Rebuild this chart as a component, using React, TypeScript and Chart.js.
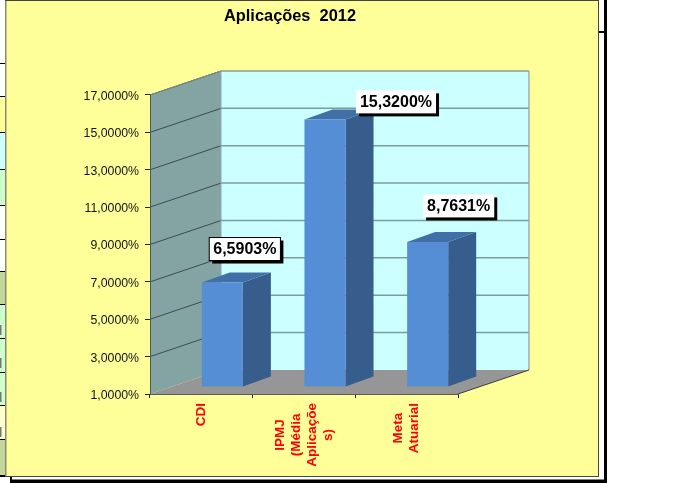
import React, { useEffect, useRef } from "react";
import { Chart, registerables } from "chart.js";

Chart.register(...registerables);

const chartTitle = "Aplicações  2012";
const categories: string[][] = [["CDI"], ["IPMJ", "(Média", "Aplicaçõe", "s)"], ["Meta", "Atuarial"]];
const values: number[] = [6.5903, 15.32, 8.7631];
const axisMin = 1;
const axisMax = 17;
const axisStep = 2;

const FONT = '"Liberation Sans", Arial, sans-serif';
const fmt = (v: number) => v.toFixed(4).replace(".", ",") + "%";

// 3D projection of the fake-perspective box
const WALL_DX = 71;
const WALL_DY = -24;
const BAR_FRONT_DX = 21;
const BAR_FRONT_DY = -7;
const BAR_DEPTH_DX = 28;
const BAR_DEPTH_DY = -10;

// Label box placement relative to the top-centre of each bar's front face
const labelOffsets = [
  { dx: 22.5, dy: -33.5, border: true },
  { dx: 71, dy: -17.5, border: false },
  { dx: 31, dy: -36, border: false },
];

// Sheet cells that show around the chart on the left
const stripCells = [
  { from: 0, to: 64, color: "#FFFFFF" },
  { from: 64, to: 97, color: "#FFFFFF" },
  { from: 97, to: 133, color: "#FFFF99" },
  { from: 133, to: 170, color: "#CCFFFF" },
  { from: 170, to: 206, color: "#CCFFCC" },
  { from: 206, to: 240, color: "#FFFFFF" },
  { from: 240, to: 272, color: "#FFFFFF" },
  { from: 272, to: 305, color: "#C4D79B" },
  { from: 305, to: 339, color: "#CCFFCC" },
  { from: 339, to: 373, color: "#CCFFCC" },
  { from: 373, to: 406, color: "#CCFFCC" },
  { from: 406, to: 440, color: "#FFFFCC" },
  { from: 440, to: 476, color: "#C4D79B" },
];

function poly(ctx: CanvasRenderingContext2D, pts: number[][], fill?: string, stroke?: string, lw = 1) {
  ctx.beginPath();
  pts.forEach((p, i) => (i ? ctx.lineTo(p[0], p[1]) : ctx.moveTo(p[0], p[1])));
  if (fill) {
    ctx.closePath();
    ctx.fillStyle = fill;
    ctx.fill();
  }
  if (stroke) {
    ctx.strokeStyle = stroke;
    ctx.lineWidth = lw;
    ctx.stroke();
  }
}

const box3d = {
  id: "box3d",
  afterLayout(chart: any) {
    // the title is centred on x = 290 in the original chart
    if (chart.titleBlock) {
      chart.titleBlock.left += 26;
      chart.titleBlock.right += 26;
    }
  },
  beforeDraw(chart: any) {
    const { ctx, scales, width, height } = chart;
    const x = scales.x;
    const y = scales.y;
    ctx.save();
    ctx.fillStyle = "#FFFFFF";
    ctx.fillRect(0, 0, width, height);

    // sheet cells on the left
    stripCells.forEach((c) => {
      ctx.fillStyle = c.color;
      ctx.fillRect(0, c.from, 6, c.to - c.from);
      ctx.fillStyle = "#000000";
      ctx.fillRect(0, c.to - 1, 6, c.to === 64 || c.to === 240 ? 3 : 2);
    });
    ctx.fillStyle = "#777777";
    [325, 358, 392, 427].forEach((t) => ctx.fillRect(0, t, 1.5, 10));

    // chart frame
    ctx.fillStyle = "#FFFF99";
    ctx.fillRect(6, 0, 592, 476);
    ctx.fillStyle = "#8A8A70";
    ctx.fillRect(5, 0, 1.5, 477);
    ctx.fillStyle = "#444444";
    ctx.fillRect(5, 0, 593, 1);
    ctx.fillRect(598, 0, 1, 477);
    ctx.fillRect(5, 476, 594, 1);
    // black rules of the sheet outside the chart
    ctx.fillStyle = "#000000";
    ctx.fillRect(604, 0, 3, 483);
    ctx.fillRect(599, 31, 5, 2);
    ctx.fillRect(10, 479.5, 597, 3.5);
    ctx.fillRect(10, 477, 2, 6);

    // walls and floor of the 3D box
    const L = x.left;
    const R = x.right;
    const T = y.getPixelForValue(axisMax);
    const B = y.getPixelForValue(axisMin);
    poly(ctx, [[L, B], [L, T], [L + WALL_DX, T + WALL_DY], [L + WALL_DX, B + WALL_DY]], "#84A3A3");
    poly(ctx, [[L + WALL_DX, T + WALL_DY], [R + WALL_DX, T + WALL_DY], [R + WALL_DX, B + WALL_DY], [L + WALL_DX, B + WALL_DY]], "#CCFFFF");
    poly(ctx, [[L, B], [R, B], [R + WALL_DX, B + WALL_DY], [L + WALL_DX, B + WALL_DY]], "#969696");

    // grid lines
    y.ticks.forEach((t: any) => {
      const py = y.getPixelForValue(t.value);
      if (t.value !== axisMin) {
        poly(ctx, [[L, py], [L + WALL_DX, py + WALL_DY]], undefined, "#3C4C4C", 1);
        poly(ctx, [[L + WALL_DX, py + WALL_DY], [R + WALL_DX, py + WALL_DY]], undefined, t.value === axisMax ? "#8C9C8C" : "#7C9C9C", 1.5);
      }
    });
    poly(ctx, [[L, T], [L + WALL_DX, T + WALL_DY]], undefined, "#7C9090", 1);
    poly(ctx, [[L + WALL_DX, T + WALL_DY], [L + WALL_DX, B + WALL_DY]], undefined, "#8FA8A8", 1);
    poly(ctx, [[R + WALL_DX, T + WALL_DY], [R + WALL_DX, B + WALL_DY]], undefined, "#A8A8A8", 1.5);
    poly(ctx, [[R, B], [R + WALL_DX, B + WALL_DY]], undefined, "#3C3C3C", 1);
    ctx.restore();
  },
  beforeDatasetsDraw(chart: any) {
    const { ctx } = chart;
    const meta = chart.getDatasetMeta(0);
    ctx.save();
    ctx.translate(BAR_FRONT_DX, BAR_FRONT_DY);
    meta.data.forEach((el: any) => {
      const xr = el.x + el.width / 2;
      const xl = el.x - el.width / 2;
      poly(ctx, [[xr, el.y], [xr + BAR_DEPTH_DX, el.y + BAR_DEPTH_DY], [xr + BAR_DEPTH_DX, el.base + BAR_DEPTH_DY], [xr, el.base]], "#375D8C");
      poly(ctx, [[xl, el.y], [xr, el.y], [xr + BAR_DEPTH_DX, el.y + BAR_DEPTH_DY], [xl + BAR_DEPTH_DX, el.y + BAR_DEPTH_DY]], "#4170A8");
    });
    // the front faces are drawn by Chart.js inside this translation
  },
  afterDatasetsDraw(chart: any) {
    const { ctx, scales } = chart;
    ctx.restore();
    const meta = chart.getDatasetMeta(0);

    // value labels
    ctx.save();
    ctx.font = `bold 16px ${FONT}`;
    ctx.textAlign = "center";
    ctx.textBaseline = "middle";
    meta.data.forEach((el: any, i: number) => {
      const off = labelOffsets[i];
      const txt = fmt(values[i]);
      const cx = el.x + BAR_FRONT_DX + off.dx;
      const cy = el.y + BAR_FRONT_DY + off.dy;
      const w = ctx.measureText(txt).width + 8;
      const h = 23;
      ctx.fillStyle = "#000000";
      ctx.fillRect(cx - w / 2 + 3, cy - h / 2 + 3, w, h);
      ctx.fillStyle = "#FFFFFF";
      ctx.fillRect(cx - w / 2, cy - h / 2, w, h);
      if (off.border) {
        ctx.strokeStyle = "#000000";
        ctx.lineWidth = 1;
        ctx.strokeRect(cx - w / 2, cy - h / 2, w, h);
      }
      ctx.fillStyle = "#000000";
      ctx.fillText(txt, cx, cy + 1);
    });
    ctx.restore();

    // category labels, rotated, lines centred in their block
    ctx.save();
    ctx.font = `bold 13.5px ${FONT}`;
    ctx.fillStyle = "#FF0000";
    ctx.textAlign = "center";
    ctx.textBaseline = "middle";
    const x = scales.x;
    categories.forEach((lines, i) => {
      const cx = x.getPixelForValue(i);
      const maxW = Math.max(...lines.map((s) => ctx.measureText(s).width));
      const cy = x.top + 9 + maxW / 2;
      lines.forEach((s, j) => {
        ctx.save();
        ctx.translate(cx + (j - (lines.length - 1) / 2) * 16, cy);
        ctx.rotate(-Math.PI / 2);
        ctx.fillText(s, 0, 0);
        ctx.restore();
      });
    });
    ctx.restore();
  },
};

export default function App() {
  const ref = useRef<HTMLCanvasElement>(null);
  useEffect(() => {
    if (!ref.current) return;
    const chart = new Chart(ref.current, {
      type: "bar",
      data: {
        labels: categories.map((c) => c.join(" ")),
        datasets: [
          {
            data: values,
            base: axisMin,
            backgroundColor: "#558ED5",
            borderWidth: 0,
            barPercentage: 0.4,
            categoryPercentage: 1,
          },
        ],
      },
      options: {
        responsive: false,
        animation: false,
        devicePixelRatio: 1,
        layout: { padding: { left: 70, right: 242, top: 0, bottom: 9 } },
        plugins: {
          legend: { display: false },
          tooltip: { enabled: false },
          title: {
            display: true,
            text: chartTitle,
            color: "#000000",
            font: { family: FONT, size: 16.4, weight: "bold" },
            padding: { top: 7, bottom: 68.3 },
          },
        },
        scales: {
          x: {
            afterFit(s: any) {
              s.height = 80;
            },
            grid: { drawOnChartArea: false, drawTicks: true, tickLength: 4, color: "#222222" },
            border: { color: "#5A5A5A", width: 1 },
            ticks: { display: false },
          },
          y: {
            min: axisMin,
            max: axisMax,
            afterFit(s: any) {
              s.width = 80;
            },
            grid: { drawOnChartArea: false, drawTicks: true, tickLength: 5, color: "#222222" },
            border: { color: "#4A5A5A", width: 1 },
            ticks: {
              stepSize: axisStep,
              padding: 6,
              labelOffset: 1.5,
              color: "#111111",
              font: { family: FONT, size: 12.3 },
              callback: (v: any) => fmt(Number(v)),
            },
          },
        },
      },
      plugins: [box3d],
    } as any);
    return () => chart.destroy();
  }, []);
  return (
    <canvas
      ref={ref}
      width={700}
      height={483}
      style={{ position: "absolute", left: 0, top: 0, display: "block" }}
    />
  );
}
